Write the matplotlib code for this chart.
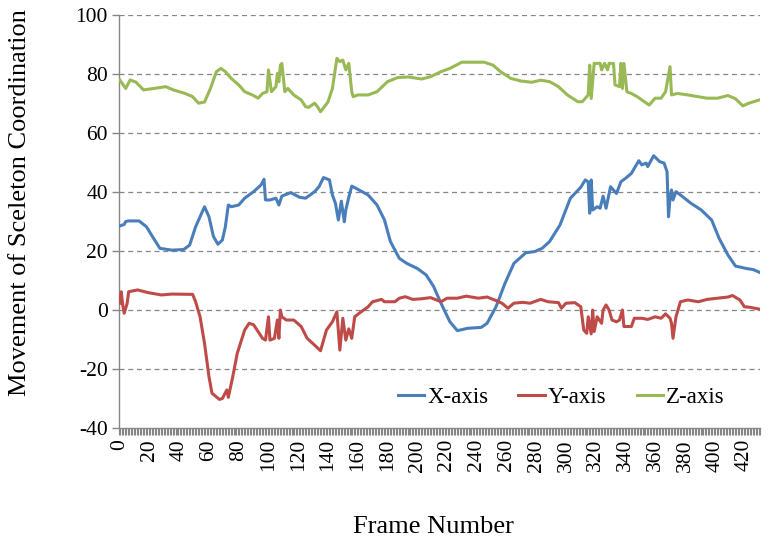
import matplotlib
matplotlib.use("Agg")
import matplotlib.pyplot as plt
from matplotlib.ticker import FixedLocator, MultipleLocator

plt.rcParams['font.family'] = ['Liberation Serif', 'DejaVu Serif']
plt.rcParams['axes.unicode_minus'] = False

# ---- data ----
n_frames = 431
tick_labels = list(range(0, 421, 20))

x_frames = [0, 3, 4, 6, 13, 18, 22, 27, 35, 43, 47, 51, 57, 60, 63, 66, 69, 71, 73, 75,
            80, 84, 90, 95, 97, 98, 101, 105, 107, 109, 115, 121, 125, 131, 134, 137, 141, 143, 145, 147,
            149, 151, 152, 154, 156, 159, 167, 173, 178, 182, 188, 193, 200, 206, 211, 216, 222, 227, 234, 243,
            247, 253, 259, 265, 273, 279, 284, 289, 296, 303, 310, 313, 315, 316, 317, 318, 321, 323, 325, 327,
            330, 334, 337, 340, 344, 349, 351, 354, 355, 359, 363, 366, 368, 369, 370, 371, 372, 374, 377, 384,
            391, 398, 403, 409, 414, 421, 426, 430]
x_values = [28.5, 29.0, 30.0, 30.2, 30.2, 28.2, 24.9, 20.9, 20.3, 20.5, 22.0, 28.2, 35.0, 31.6, 24.9, 22.3, 23.7, 28.2, 35.6, 35.0,
            35.6, 37.9, 40.1, 42.4, 44.3, 37.3, 37.3, 37.9, 35.6, 38.6, 39.8, 38.2, 37.9, 40.1, 41.8, 44.9, 44.1, 39.0, 36.2, 30.5,
            36.9, 29.9, 33.9, 38.2, 42.0, 41.2, 39.0, 35.6, 30.5, 23.2, 17.5, 15.8, 14.1, 11.9, 8.0, 2.3, -4.0, -7.0, -6.2, -5.9,
            -4.5, 1.1, 9.0, 15.8, 19.4, 19.8, 20.9, 23.2, 28.8, 37.9, 41.6, 44.1, 43.4, 32.8, 44.1, 33.9, 35.0, 34.5, 38.6, 34.5,
            41.8, 39.5, 43.5, 44.6, 46.3, 50.6, 49.2, 49.8, 48.6, 52.3, 50.3, 49.8, 46.9, 31.6, 38.0, 40.7, 37.3, 40.1, 39.0, 36.2,
            33.9, 30.5, 24.3, 18.6, 14.9, 14.1, 13.7, 12.8]

y_frames = [0, 1, 2, 3, 5, 6, 12, 19, 28, 35, 49, 51, 54, 57, 60, 62, 67, 69, 72, 73,
            76, 79, 84, 87, 90, 96, 98, 100, 101, 104, 106, 107, 108, 109, 112, 117, 122, 126, 131, 135,
            139, 143, 146, 148, 150, 152, 154, 156, 158, 161, 167, 170, 176, 178, 185, 188, 192, 197, 203, 209,
            216, 220, 227, 233, 241, 247, 253, 257, 261, 265, 271, 276, 283, 288, 295, 297, 300, 306, 310, 312,
            314, 315, 317, 318, 319, 321, 324, 325, 327, 329, 331, 334, 336, 338, 339, 344, 346, 351, 355, 360,
            364, 367, 370, 371, 372, 374, 377, 382, 389, 395, 402, 409, 412, 417, 420, 424, 430]
y_values = [2.3, 6.2, 1.7, -1.1, 2.3, 6.2, 6.8, 5.9, 5.1, 5.4, 5.3, 2.8, -2.3, -11.3, -22.6, -28.2, -30.3, -30.0, -27.1, -29.6,
            -22.6, -14.7, -6.8, -4.5, -5.0, -9.6, -10.2, -2.3, -10.2, -9.6, -3.4, -9.6, 0.0, -2.3, -3.4, -3.4, -5.6, -9.6, -11.9, -13.8,
            -6.8, -4.0, -0.6, -13.6, -2.8, -10.2, -6.4, -9.6, -2.3, -1.1, 1.1, 2.8, 3.6, 2.8, 2.8, 4.0, 4.5, 3.6, 3.8, 4.2,
            2.8, 4.0, 4.0, 4.7, 4.0, 4.4, 3.2, 2.3, 0.6, 2.3, 2.6, 2.3, 3.6, 2.8, 2.5, 0.6, 2.3, 2.5, 1.1, -6.8,
            -7.9, -2.3, -8.1, 0.0, -7.3, -2.3, -4.5, 0.0, 1.7, 0.0, -3.4, -4.0, -3.4, 0.0, -5.6, -5.6, -2.8, -2.8, -3.2, -2.3,
            -2.8, -1.3, -2.8, -4.5, -9.6, -2.3, 2.8, 3.4, 2.8, 3.6, 4.0, 4.4, 4.9, 3.4, 1.1, 0.9, 0.3]

z_frames = [0, 4, 7, 11, 16, 23, 31, 36, 44, 49, 53, 57, 61, 65, 68, 71, 75, 80, 84, 90,
            93, 96, 99, 100, 102, 105, 106, 107, 108, 109, 111, 113, 117, 122, 125, 127, 131, 133, 135, 140,
            143, 146, 148, 150, 152, 154, 156, 157, 160, 167, 173, 180, 187, 194, 203, 209, 216, 222, 230, 236,
            245, 251, 256, 263, 270, 277, 283, 289, 295, 301, 308, 311, 315, 316, 317, 319, 323, 324, 326, 328,
            329, 332, 333, 336, 337, 338, 339, 341, 344, 348, 353, 356, 360, 364, 367, 370, 371, 375, 382, 389,
            395, 402, 409, 414, 419, 423, 430]
z_values = [78.0, 75.1, 78.0, 77.2, 74.6, 75.1, 75.7, 74.6, 73.4, 72.3, 70.1, 70.5, 75.1, 80.8, 81.9, 80.8, 78.5, 76.3, 74.0, 72.7,
            71.8, 73.4, 74.0, 81.4, 74.0, 75.7, 80.2, 77.4, 83.0, 83.6, 74.0, 75.1, 72.9, 71.2, 68.9, 68.7, 70.1, 68.9, 67.2, 70.5,
            75.1, 85.3, 84.2, 84.7, 81.4, 83.6, 74.0, 72.3, 72.9, 72.9, 74.0, 77.4, 78.8, 79.0, 78.3, 79.1, 80.8, 81.9, 84.0, 84.0,
            84.0, 83.0, 80.8, 78.5, 77.6, 77.2, 77.9, 77.4, 75.7, 72.9, 70.6, 70.6, 72.9, 83.0, 71.7, 83.6, 83.6, 81.4, 83.6, 81.4,
            83.6, 83.6, 76.3, 75.7, 83.6, 75.1, 83.6, 74.0, 73.4, 72.3, 70.5, 69.5, 71.8, 71.8, 74.0, 82.5, 72.9, 73.4, 72.9, 72.3,
            71.8, 71.8, 72.7, 71.6, 69.2, 70.1, 71.2]

series_names = ["X-axis", "Y-axis", "Z-axis"]
series_colors = ["#4A7EBB", "#BE4B48", "#98B954"]

# ---- figure ----
fig = plt.figure(figsize=(7.68, 5.52), dpi=100)
ax = fig.add_axes([119 / 768, 1 - 428 / 552, (760 - 119) / 768, (428 - 15) / 552])

for fr, vals, name, col in zip([x_frames, y_frames, z_frames],
                               [x_values, y_values, z_values],
                               series_names, series_colors):
    ax.plot(fr, vals, color=col, lw=2.2, label=name, solid_joinstyle='round', zorder=3)

ax.set_xlim(-0.5, n_frames - 0.5)
ax.set_ylim(-40, 100)

ax.yaxis.set_major_locator(MultipleLocator(20))
ax.xaxis.set_major_locator(FixedLocator(tick_labels))
ax.xaxis.set_minor_locator(FixedLocator([k - 0.5 for k in range(n_frames + 1)]))
ax.set_xticklabels([str(t) for t in tick_labels], rotation=90)

gray = "#868686"
for s in ["top", "right"]:
    ax.spines[s].set_visible(False)
for s in ["left", "bottom"]:
    ax.spines[s].set_color(gray)
    ax.spines[s].set_linewidth(1.0)

ax.tick_params(axis='y', which='major', direction='out', length=5, width=1, color=gray,
               labelsize=15.5, pad=3)
ax.tick_params(axis='x', which='major', length=0, labelsize=15.5, pad=8)
ax.tick_params(axis='x', which='minor', direction='out', length=5, width=0.8, color=gray)

for v in range(-20, 101, 20):
    ax.axhline(v, color=gray, lw=0.9, ls=(0, (4, 3)), zorder=1)

ax.set_ylabel("Movement of Sceleton Coordination", fontsize=19)
ax.yaxis.label.set_va('center')
ax.yaxis.set_label_coords(-0.154, 0.545)
ax.set_xlabel("Frame Number", fontsize=19)
ax.xaxis.label.set_va('center')
ax.xaxis.set_label_coords(0.49, -0.24)

leg = ax.legend(loc='center', bbox_to_anchor=(0.69, 0.073), ncol=3, frameon=False,
                fontsize=16.5, handlelength=1.15, handletextpad=0.15, columnspacing=1.3)

fig.savefig("out.png", dpi=100)
